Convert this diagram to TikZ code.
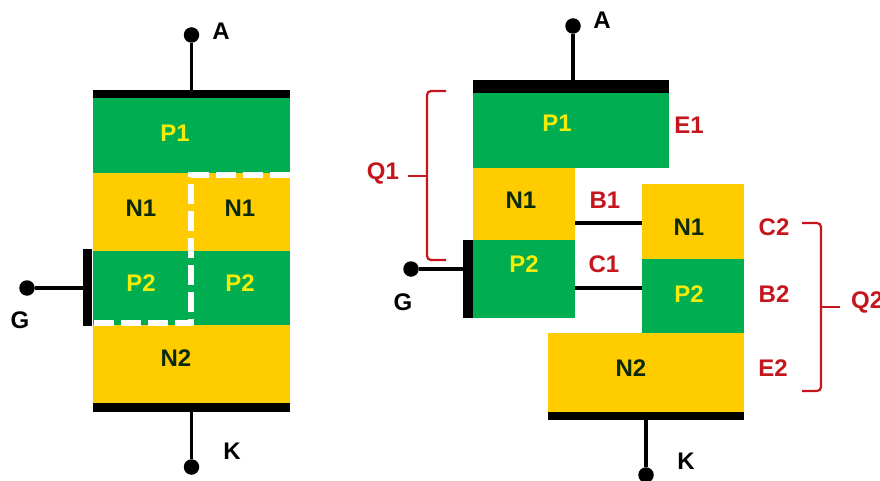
\documentclass[tikz,border=0pt]{standalone}
\usepackage{fontspec}
\setmainfont{Liberation Sans}
\definecolor{lgreen}{HTML}{00AD50}
\definecolor{lyellow}{HTML}{FFCC00}
\definecolor{lred}{HTML}{C5161D}
\definecolor{ldark}{HTML}{0B2A0B}
\newcommand{\lay}[6]{%
  \pgfmathsetmacro\layw{#4-#2}\pgfmathsetmacro\layh{#5-#3}%
  \pgfmathsetmacro\layx{(#4+#2)/2}\pgfmathsetmacro\layy{(#5+#3)/2}%
  \node[#6,minimum width=\layw pt,minimum height=\layh pt] (#1) at (\layx,\layy) {};}
\tikzset{
  base/.style={inner sep=0pt,outer sep=0pt,draw=none,rectangle},
  pgreen/.style={base,fill=lgreen},
  nyellow/.style={base,fill=lyellow},
  plate/.style={base,fill=black},
  dot/.style={circle,fill=black,inner sep=0pt,outer sep=0pt,minimum size=15.5pt},
  wire/.style={draw=black,line width=3.6pt},
  dashw/.style={draw=white,line width=6pt,dash pattern=on 20pt off 7pt},
  brace/.style={draw=lred,line width=2.2pt,rounded corners=4pt},
  tick/.style={draw=lred,line width=2.2pt},
  lab/.style={font=\fontsize{24}{24}\selectfont\bfseries,inner sep=0pt},
  onp/.style={lab,text=yellow!95!lgreen},
  onn/.style={lab,text=ldark},
  term/.style={lab,text=black},
  redl/.style={lab,text=lred}
}
\begin{document}
\begin{tikzpicture}[x=1pt,y=-1pt]
\useasboundingbox (0,0) rectangle (880,481);
\fill[white] (0,0) rectangle (880,481);
% --- left device
\lay{lp1}{93}{98}{290}{173}{pgreen}
\lay{ln1}{93}{173}{290}{251}{nyellow}
\lay{lp2}{93}{251}{290}{325}{pgreen}
\lay{ln2}{93}{325}{290}{403}{nyellow}
\lay{ltop}{93}{90}{290}{98}{plate}
\lay{lbot}{93}{403}{290}{412}{plate}
\lay{lgate}{83}{249}{92}{326}{plate}
\node[dot] (la) at (191.5,35) {};
\node[dot] (lk) at (191.5,467) {};
\node[dot] (lg) at (27,288) {};
\draw[wire] (la) -- (la |- ltop.north);
\draw[wire] (lk) -- (lk |- lbot.south);
\draw[wire] (lg) -- (lg -| lgate.west);
\coordinate (d1) at (290,175);
\coordinate (d2) at (191,175);
\coordinate (d3) at (191,323);
\coordinate (d4) at (92,323);
\draw[dashw] (d1) -- (d2) -- (d3) -- (d4);
\node[onp] (t1) at (175,133) {P1};
\node[onn] (t2) at (141,208) {N1};
\node[onn] (t3) at (240,208) {N1};
\node[onp] (t4) at (141,283) {P2};
\node[onp] (t5) at (240,283) {P2};
\node[onn] (t6) at (176,358) {N2};
\node[term] (t7) at (221,31) {A};
\node[term] (t8) at (232,451) {K};
\node[term] (t9) at (20,320) {G};
% --- right device
\lay{rp1}{473}{93}{669}{168}{pgreen}
\lay{rn1a}{473}{168}{575}{240}{nyellow}
\lay{rp2a}{473}{240}{575}{318}{pgreen}
\lay{rn1b}{642}{184}{744}{259}{nyellow}
\lay{rp2b}{642}{259}{744}{333}{pgreen}
\lay{rn2}{548}{333}{744}{412}{nyellow}
\lay{rtop}{473}{80}{669}{93}{plate}
\lay{rbot}{548}{412}{744}{420}{plate}
\lay{rgate}{463}{240}{473}{318}{plate}
\node[dot] (ra) at (573,26) {};
\node[dot] (rk) at (646,475) {};
\node[dot] (rg) at (411,269) {};
\draw[wire] (ra) -- (ra |- rtop.north);
\draw[wire] (rk) -- (rk |- rbot.south);
\draw[wire] (rg) -- (rg -| rgate.west);
\coordinate (b1y) at (0,223);
\coordinate (c1y) at (0,288);
\draw[wire] (rn1a.east |- b1y) -- (rn1b.west |- b1y);
\draw[wire] (rp2a.east |- c1y) -- (rp2b.west |- c1y);
\node[onp] (u1) at (557,123) {P1};
\node[onn] (u2) at (521,200) {N1};
\node[onp] (u3) at (524,264) {P2};
\node[onn] (u4) at (689,227) {N1};
\node[onp] (u5) at (689,294) {P2};
\node[onn] (u6) at (631,368) {N2};
\node[term] (u7) at (602,20) {A};
\node[term] (u8) at (686,461) {K};
\node[term] (u9) at (403,302) {G};
\node[redl] (v1) at (689,125) {E1};
\node[redl] (v2) at (605,200) {B1};
\node[redl] (v3) at (604,264) {C1};
\node[redl] (v4) at (774,227) {C2};
\node[redl] (v5) at (774,294) {B2};
\node[redl] (v6) at (773,368) {E2};
\node[redl] (v7) at (383,173) {Q1};
\begin{scope}
\clip (0,0) rectangle (880,481);
\node[redl,anchor=west] (v8) at (851,302) {Q2};
\end{scope}
% --- braces
\coordinate (q1a) at (446,91);
\coordinate (q1b) at (427,91);
\coordinate (q1c) at (427,260);
\coordinate (q1d) at (446,260);
\coordinate (q1m) at (427,176);
\coordinate (q1t) at (408,176);
\draw[brace] (q1a) -- (q1b) -- (q1c) -- (q1d);
\draw[tick] (q1t) -- (q1m);
\coordinate (q2a) at (802,223);
\coordinate (q2b) at (821,223);
\coordinate (q2c) at (821,391);
\coordinate (q2d) at (802,391);
\coordinate (q2m) at (821,307);
\coordinate (q2t) at (840,307);
\draw[brace] (q2a) -- (q2b) -- (q2c) -- (q2d);
\draw[tick] (q2m) -- (q2t);
\end{tikzpicture}
\end{document}
